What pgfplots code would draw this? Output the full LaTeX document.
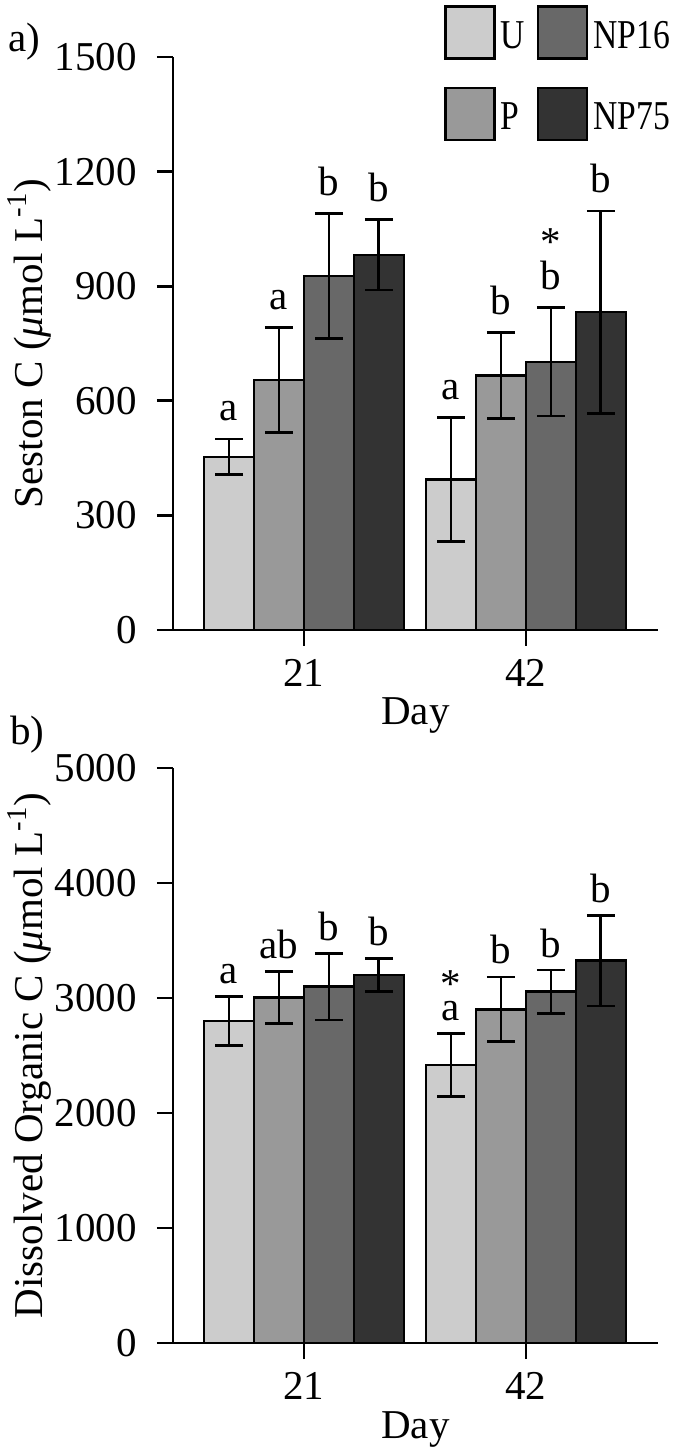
\documentclass[border=0pt]{standalone}
\usepackage{fontspec}
\setmainfont{Liberation Serif}
\usepackage{graphicx}
\usepackage{pgfplots}
\pgfplotsset{compat=1.18}
\definecolor{cU}{RGB}{204,204,204}
\definecolor{cP}{RGB}{153,153,153}
\definecolor{cN16}{RGB}{104,104,104}
\definecolor{cN75}{RGB}{51,51,51}
\newcommand{\bigf}{\fontsize{20.5}{24}\selectfont}
\newcommand{\legt}[1]{\scalebox{0.82}[1]{#1}}
\pgfplotsset{
 myaxis/.style={
  scale only axis, width=242.5pt,
  xmin=0.41, xmax=2.595, ymin=0,
  axis lines*=left, axis line style={-, line width=1.4pt, black},
  x axis line style={shorten <=-8pt},
  xtick={1,2}, xticklabels={21,42},
  tick align=outside, major tick length=8pt,
  tick style={line width=1.4pt, black},
  font=\bigf,
  /pgf/number format/assume math mode=true,
  /pgf/number format/set thousands separator={},
  scaled y ticks=false,
  yticklabel style={anchor=east, inner sep=0pt, xshift=-10pt},
  xticklabel style={anchor=north, inner sep=0pt, yshift=-6.5pt},
  xlabel={Day},
  every axis x label/.style={at={(axis description cs:0.5,-0.1658)}, anchor=base},
  every axis y label/.style={at={(axis description cs:-0.2701,0.5)}, anchor=base, rotate=90},
  clip=false,
 },
 mybar/.style={ybar, bar width=0.225, bar shift=0pt, draw=black, line width=1.2pt, fill=#1, forget plot,
   error bars/.cd, y dir=both, y explicit,
   error bar style={line width=1.4pt, black},
   error mark options={rotate=90, mark size=7pt, line width=1.4pt, black}},
 lab/.style={only marks, mark=none, forget plot, nodes near coords, point meta=explicit symbolic,
   nodes near coords style={anchor=base, yshift=#1, font=\bigf, inner sep=0pt, text=black}},
}
\begin{document}
\begin{tikzpicture}
\useasboundingbox (0,0) rectangle (350pt,727.5pt);
\node[anchor=base west, inner sep=0pt, font=\bigf] at (4pt,701.5pt) {a)};
\node[anchor=base west, inner sep=0pt, font=\bigf] at (5pt,355pt) {b)};
% ---------- panel a ----------
\begin{axis}[myaxis, at={(86.5pt,412.5pt)}, anchor=south west, height=286.5pt,
  ymax=1500, ytick={0,300,...,1500},
  ylabel={Seston C (\textit{μ}mol L\textsuperscript{-1})},
  legend columns=2, legend cell align=left,
  legend image code/.code={\draw[#1, line width=1.2pt] (0pt,-11pt) rectangle (24.5pt,15pt);},
  legend style={draw=none, fill=none, at={(rel axis cs:0.5588,1.0908)}, anchor=north west,
    inner sep=0pt, nodes={inner sep=0pt}, row sep=13.5pt, font=\bigf,
    /tikz/every odd column/.append style={column sep=2.5pt},
    /tikz/every even column/.append style={column sep=5.9pt}},
]
\addplot[mybar=cU] coordinates {(0.6625,453) +- (0,47) (1.6625,394) +- (0,162)};
\addplot[mybar=cP] coordinates {(0.8875,654) +- (0,137) (1.8875,666) +- (0,113)};
\addplot[mybar=cN16] coordinates {(1.1125,927) +- (0,163) (2.1125,702) +- (0,142)};
\addplot[mybar=cN75] coordinates {(1.3375,982) +- (0,92) (2.3375,832) +- (0,265)};
\addplot[lab=9pt] coordinates {(0.6625,500)[a] (0.8875,791)[a] (1.1125,1090)[b] (1.3375,1074)[b]
  (1.6625,556)[a] (1.8875,779)[b] (2.1125,844)[b] (2.3375,1097)[b]};
\addplot[lab=26pt] coordinates {(2.1125,844)[*]};
\addlegendimage{fill=cU, draw=black}\addlegendentry{\legt{U}}
\addlegendimage{fill=cN16, draw=black}\addlegendentry{\legt{NP16}}
\addlegendimage{fill=cP, draw=black}\addlegendentry{\legt{P}}
\addlegendimage{fill=cN75, draw=black}\addlegendentry{\legt{NP75}}
\end{axis}
% ---------- panel b ----------
\begin{axis}[myaxis, at={(86.5pt,56pt)}, anchor=south west, height=287.5pt,
  ymax=5000, ytick={0,1000,...,5000},
  ylabel={Dissolved Organic C (\textit{μ}mol L\textsuperscript{-1})},
]
\addplot[mybar=cU] coordinates {(0.6625,2800) +- (0,212) (1.6625,2417) +- (0,275)};
\addplot[mybar=cP] coordinates {(0.8875,3006) +- (0,225) (1.8875,2901) +- (0,282)};
\addplot[mybar=cN16] coordinates {(1.1125,3099) +- (0,290) (2.1125,3055) +- (0,188)};
\addplot[mybar=cN75] coordinates {(1.3375,3200) +- (0,145) (2.3375,3325) +- (0,395)};
\addplot[lab=6.5pt] coordinates {(0.6625,3012)[a] (0.8875,3231)[ab] (1.1125,3389)[b] (1.3375,3345)[b]
  (1.6625,2692)[a] (1.8875,3183)[b] (2.1125,3243)[b] (2.3375,3720)[b]};
\addplot[lab=18pt] coordinates {(1.6625,2692)[*]};
\end{axis}
\end{tikzpicture}
\end{document}
